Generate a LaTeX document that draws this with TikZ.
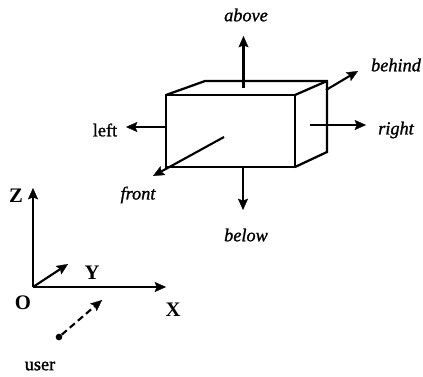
\documentclass[tikz,border=0pt]{standalone}
\usepackage{fontspec}
\setmainfont{Liberation Serif}
\newfontfamily\scanfont[FakeBold=1.2]{Liberation Serif}
\newfontfamily\scanital[FakeBold=1.2]{Liberation Serif Italic}
\usetikzlibrary{arrows.meta}
\tikzset{
  edge/.style={line width=1.7pt,line join=miter},
  arr/.style={line width=1.6pt,-{Stealth[length=8.5pt,width=7.5pt,inset=1.5pt,line width=0.2pt]}},
  ilabel/.style={font=\fontsize{13.7}{15}\scanital,inner sep=0pt},
  rlabel/.style={font=\fontsize{13.7}{15}\scanfont,inner sep=0pt},
  axlabel/.style={font=\fontsize{15.5}{17}\selectfont\bfseries,inner sep=0pt}
}
\begin{document}
\begin{tikzpicture}[x=0.75pt,y=-0.75pt]
\useasboundingbox (0,0) rectangle (423,376);
% box
\coordinate (ftl) at (166,95);
\coordinate (ftr) at (295,95);
\coordinate (fbr) at (295,167);
\coordinate (fbl) at (166,167);
\coordinate (btl) at (205,81);
\coordinate (btr) at (327,81);
\coordinate (bbr) at (327,152);
\draw[edge] (ftl) -- (ftr) -- (fbr) -- (fbl) -- cycle;
\draw[edge] (ftl) -- (btl) -- (btr) -- (bbr) -- (fbr);
\draw[edge] (ftr) -- (btr);
% labels
\node[ilabel] (above) at (246,15) {above};
\node[ilabel] (behind) at (396,65) {behind};
\node[ilabel] (right) at (396,130) {right};
\node[rlabel] (left) at (105,130) {left};
\node[ilabel] (front) at (138,195) {front};
\node[ilabel] (below) at (246,235) {below};
% direction arrows
\coordinate (a0) at (243.5,88); \coordinate (a1) at (243.5,36);
\coordinate (b0) at (243,168); \coordinate (b1) at (243,210);
\coordinate (l0) at (167,127); \coordinate (l1) at (126,127);
\coordinate (r0) at (310,125); \coordinate (r1) at (366,125);
\coordinate (h0) at (326,90); \coordinate (h1) at (358,71);
\coordinate (f0) at (224,137); \coordinate (f1) at (153,176);
\draw[arr] (a0) -- (a1);
\draw[arr] (b0) -- (b1);
\draw[arr] (l0) -- (l1);
\draw[arr] (r0) -- (r1);
\draw[arr] (h0) -- (h1);
\draw[arr] (f0) -- (f1);
% axes
\coordinate (O) at (33,287);
\coordinate (Zt) at (33,188);
\coordinate (Xt) at (166,287);
\coordinate (Yt) at (68,264);
\draw[arr] (O) -- (Zt);
\draw[arr] (O) -- (Xt);
\draw[arr] (O) -- (Yt);
\node[axlabel] (zl) at (16,196) {Z};
\node[axlabel] (xl) at (173,310) {X};
\node[axlabel] (yl) at (92,273) {Y};
\node[axlabel] (ol) at (23,303) {O};
% user
\node[circle,fill,inner sep=0pt,minimum size=5pt] (dot) at (59,337) {};
\coordinate (ut) at (102,300);
\draw[arr,dash pattern=on 5pt off 3pt] (dot) -- (ut);
\node[rlabel] (user) at (40,366) {user};
\end{tikzpicture}
\end{document}
